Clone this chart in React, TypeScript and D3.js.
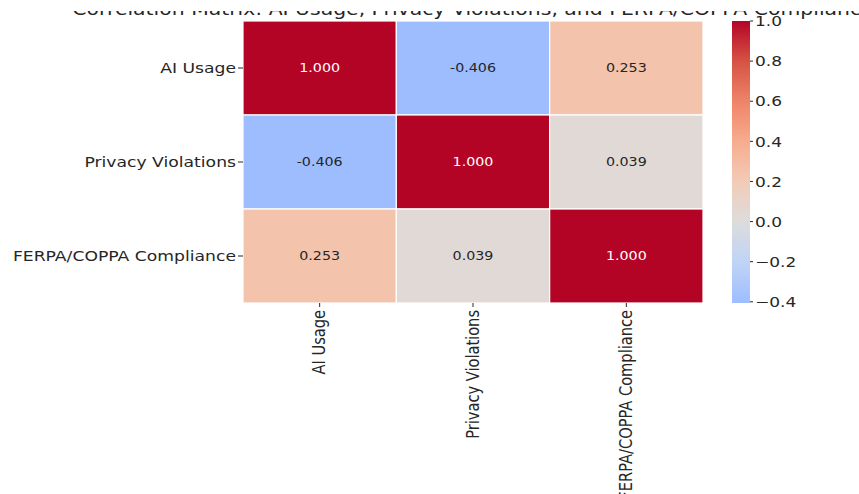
import React from "react";
import * as d3 from "d3";

// Correlation matrix between the three measured variables
const variables = ["AI Usage", "Privacy Violations", "FERPA/COPPA Compliance"];
const corrAIUsage = [1.0, -0.406, 0.253];
const corrPrivacy = [-0.406, 1.0, 0.039];
const corrCompliance = [0.253, 0.039, 1.0];
const colorbarTicks = [-0.4, -0.2, 0.0, 0.2, 0.4, 0.6, 0.8, 1.0];
const chartTitle =
  "Correlation Matrix: AI Usage, Privacy Violations, and FERPA/COPPA Compliance";

// matplotlib "coolwarm" sampled at 0, 0.1, ..., 1.0
const coolwarmStops = [
  "#3b4cc0", "#5977e3", "#7b9ff9", "#9ebeff", "#c0d4f5", "#dddcdc",
  "#f2cbb7", "#f7ac8e", "#ee8468", "#d65244", "#b40426",
];

const W = 859;
const H = 494;
const FONT = "DejaVu Sans, sans-serif";
const TEXT = "#262626";
const SQUISH = 0.85;

export default function App() {
  const matrix = [corrAIUsage, corrPrivacy, corrCompliance];
  const flat = matrix.flat();
  const vmin = d3.min(flat) as number;
  const vmax = d3.max(flat) as number;
  const center = 0;
  const vrange = Math.max(vmax - center, center - vmin);

  const cmap = d3
    .scaleLinear<string>()
    .domain(coolwarmStops.map((_, i) => i / (coolwarmStops.length - 1)))
    .range(coolwarmStops)
    .interpolate(d3.interpolateRgb)
    .clamp(true);
  const color = (v: number) => cmap((v - center + vrange) / (2 * vrange));

  const left = 243;
  const right = 703;
  const top = 21;
  const bottom = 303;

  const x = d3.scaleBand<string>().domain(variables).range([left, right]);
  const y = d3.scaleBand<string>().domain(variables).range([top, bottom]);

  const cbX = 732;
  const cbW = 18;
  const cbY = d3.scaleLinear().domain([vmin, vmax]).range([bottom, top]);
  const gradStops = d3.range(0, 41).map((i) => {
    const v = vmin + ((vmax - vmin) * i) / 40;
    return { offset: `${(i / 40) * 100}%`, color: color(v) };
  });

  // cell values keep an ASCII hyphen, colorbar labels use a true minus sign
  const fmtCell = (v: number) => v.toFixed(3);
  const fmtBar = (v: number) => d3.format(".1f")(v).replace("-", "\u2212");

  const textColorFor = (v: number) => {
    const rgb = d3.rgb(color(v));
    const lum = 0.2126 * rgb.r + 0.7152 * rgb.g + 0.0722 * rgb.b;
    return lum < 0.408 * 255 ? "#ffffff" : TEXT;
  };

  return (
    <svg
      width={W}
      height={H}
      style={{ position: "absolute", left: 0, top: 0, background: "#fff" }}
      fontFamily={FONT}
    >
      <defs>
        <linearGradient id="cbGrad" x1="0" y1="1" x2="0" y2="0">
          {gradStops.map((s, i) => (
            <stop key={i} offset={s.offset} stopColor={s.color} />
          ))}
        </linearGradient>
        <clipPath id="titleClip">
          <rect x={0} y={11} width={W} height={H} />
        </clipPath>
      </defs>

      {/* title */}
      <g clipPath="url(#titleClip)">
        <text
          transform={`translate(${(left + right) / 2},14.5) scale(1,${SQUISH})`}
          textAnchor="middle"
          fontSize={20.4}
          fill={TEXT}
        >
          {chartTitle}
        </text>
      </g>

      {/* cells */}
      {matrix.map((row, ri) =>
        row.map((v, ci) => (
          <rect
            key={`c${ri}-${ci}`}
            x={x(variables[ci])}
            y={y(variables[ri])}
            width={x.bandwidth()}
            height={y.bandwidth()}
            fill={color(v)}
            stroke="#ffffff"
            strokeWidth={1.2}
          />
        ))
      )}

      {/* annotations */}
      {matrix.map((row, ri) =>
        row.map((v, ci) => {
          const cx = (x(variables[ci]) as number) + x.bandwidth() / 2;
          const cy = (y(variables[ri]) as number) + y.bandwidth() / 2;
          return (
            <text
              key={`t${ri}-${ci}`}
              transform={`translate(${cx},${cy}) scale(1,${SQUISH})`}
              textAnchor="middle"
              dy="0.36em"
              fontSize={14.3}
              fill={textColorFor(v)}
            >
              {fmtCell(v)}
            </text>
          );
        })
      )}

      {/* y axis */}
      {variables.map((name) => {
        const cy = (y(name) as number) + y.bandwidth() / 2;
        return (
          <g key={`y-${name}`}>
            <line x1={left - 5} x2={left} y1={cy} y2={cy} stroke={TEXT} strokeWidth={1} />
            <text
              transform={`translate(${left - 7},${cy}) scale(1,${SQUISH})`}
              textAnchor="end"
              dy="0.36em"
              fontSize={17.2}
              fill={TEXT}
            >
              {name}
            </text>
          </g>
        );
      })}

      {/* x axis */}
      {variables.map((name) => {
        const cx = (x(name) as number) + x.bandwidth() / 2;
        return (
          <g key={`x-${name}`}>
            <line x1={cx} x2={cx} y1={bottom} y2={bottom + 4} stroke={TEXT} strokeWidth={1} />
            <text
              transform={`translate(${cx},${bottom + 7}) scale(1,${SQUISH}) rotate(-90)`}
              textAnchor="end"
              dy="0.33em"
              fontSize={17.2}
              fill={TEXT}
            >
              {name}
            </text>
          </g>
        );
      })}

      {/* colorbar */}
      <rect
        x={cbX}
        y={cbY(vmax)}
        width={cbW}
        height={cbY(vmin) - cbY(vmax)}
        fill="url(#cbGrad)"
      />
      {colorbarTicks.map((t) => (
        <g key={`cb-${t}`}>
          <line
            x1={cbX + cbW}
            x2={cbX + cbW + 3}
            y1={cbY(t)}
            y2={cbY(t)}
            stroke={TEXT}
            strokeWidth={1}
          />
          <text
            transform={`translate(${cbX + cbW + 5},${cbY(t)}) scale(1,${SQUISH})`}
            dy="0.36em"
            fontSize={17}
            fill={TEXT}
          >
            {fmtBar(t)}
          </text>
        </g>
      ))}
    </svg>
  );
}
